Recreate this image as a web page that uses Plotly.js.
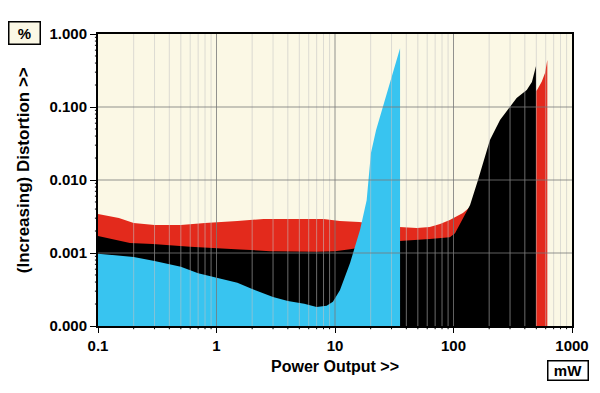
<!DOCTYPE html>
<html>
<head>
<meta charset="utf-8">
<script src="https://cdn.plot.ly/plotly-3.0.1.min.js"></script>
<style>html,body{margin:0;padding:0;background:#fff;}#chart{width:600px;height:393px;}</style>
</head>
<body>
<div id="chart"></div>
<script>
// Power output (mW) and distortion (%) for three series
const redX = [0.1, 0.15, 0.2, 0.3, 0.5, 0.8, 1.5, 2.5, 8, 11, 16, 35, 49, 63, 77, 93, 120, 138, 161, 185, 203, 247, 300, 341, 415, 459, 507, 555, 592, 619];
const redY = [0.00342, 0.00301, 0.00258, 0.00242, 0.00242, 0.00258, 0.00274, 0.00292, 0.00292, 0.00274, 0.00266, 0.00227, 0.0022, 0.00227, 0.0025, 0.00283, 0.00353, 0.00427, 0.0075, 0.017, 0.028, 0.05, 0.08, 0.1, 0.13, 0.15, 0.171, 0.222, 0.292, 0.44];

const blackX = [0.1, 0.186, 0.29, 0.6, 1.58, 2.83, 7.0, 10, 13.4, 20, 35, 63, 93, 103, 138, 161, 185, 203, 247, 300, 341, 415, 459, 497];
const blackY = [0.00171, 0.00137, 0.00133, 0.00122, 0.00112, 0.00106, 0.00104, 0.00106, 0.00113, 0.00125, 0.00146, 0.00155, 0.00164, 0.00187, 0.00455, 0.0100, 0.0209, 0.0353, 0.0664, 0.101, 0.133, 0.171, 0.22, 0.365];

const cyanX = [0.1, 0.2, 0.3, 0.5, 0.7, 1.0, 1.5, 2.0, 3.0, 4.0, 5.5, 7.0, 8.5, 9.6, 11.0, 13.4, 16.3, 18.5, 19.1, 20.1, 22.2, 25.4, 28.6, 35.4];
const cyanY = [0.00098, 0.00088, 0.00078, 0.00065, 0.00053, 0.00046, 0.00039, 0.00032, 0.00025, 0.00022, 0.000202, 0.000182, 0.00019, 0.000215, 0.00031, 0.00073, 0.0021, 0.0053, 0.010, 0.0234, 0.048, 0.10, 0.19, 0.64];

const xTickVals = [0.1, 1, 10, 100, 1000];
const xTickText = ['0.1', '1', '10', '100', '1000'];
const yTickVals = [0.0001, 0.001, 0.01, 0.1, 1];
const yTickText = ['0.000', '0.001', '0.010', '0.100', '1.000'];
const minorMult = [2, 3, 4, 5, 6, 7, 8, 9];

const xMinor = xTickVals.slice(0, -1).flatMap(d => minorMult.map(m => d * m));
const yMinor = yTickVals.slice(0, -1).flatMap(d => minorMult.map(m => d * m));

function area(x, y, color) {
  return {x: x, y: y, type: 'scatter', mode: 'lines', fill: 'tozeroy',
          fillcolor: color, line: {color: color, width: 0}, hoverinfo: 'skip', showlegend: false};
}
const traces = [
  area(redX, redY, '#E32A1C'),
  area(blackX, blackY, '#000000'),
  area(cyanX, cyanY, '#38C4F0')
];

const shapes = [];
function vline(v, color) {
  shapes.push({type: 'line', xref: 'x', yref: 'paper', x0: v, x1: v, y0: 0, y1: 1, line: {color: color, width: 1}, layer: 'above'});
}
function hline(v, color) {
  shapes.push({type: 'line', xref: 'paper', yref: 'y', y0: v, y1: v, x0: 0, x1: 1, line: {color: color, width: 1}, layer: 'above'});
}
xMinor.forEach(v => vline(v, 'rgba(195,195,195,0.55)'));
xTickVals.slice(1, -1).forEach(v => vline(v, 'rgba(120,120,120,0.8)'));
yTickVals.slice(1, -1).forEach(v => hline(v, 'rgba(120,120,120,0.8)'));
// minor tick marks drawn outside the frame
xMinor.forEach(v => shapes.push({type: 'line', xref: 'x', yref: 'paper', x0: v, x1: v, y0: 0, y1: -0.011, line: {color: '#000', width: 1}, layer: 'above'}));
yMinor.forEach(v => shapes.push({type: 'line', xref: 'paper', yref: 'y', y0: v, y1: v, x0: 0, x1: -0.0065, line: {color: '#000', width: 1}, layer: 'above'}));

const fontFam = '"Liberation Sans", Arial, sans-serif';
const layout = {
  width: 600, height: 393,
  margin: {l: 98, r: 28, t: 34, b: 67},
  paper_bgcolor: '#ffffff',
  plot_bgcolor: '#FBF8E5',
  font: {family: fontFam, color: '#000', size: 15, weight: 'bold'},
  showlegend: false,
  xaxis: {
    type: 'log', range: [-1, 3], tickmode: 'array', tickvals: xTickVals, ticktext: xTickText,
    showgrid: false, zeroline: false, showline: true, mirror: true, linecolor: '#000', linewidth: 2,
    ticks: 'outside', ticklen: 5, tickwidth: 1, tickcolor: '#000',
    tickfont: {family: fontFam, size: 15, weight: 'bold', color: '#000'}
  },
  yaxis: {
    type: 'log', range: [-4, 0], tickmode: 'array', tickvals: yTickVals, ticktext: yTickText,
    showgrid: false, zeroline: false, showline: true, mirror: true, linecolor: '#000', linewidth: 2,
    ticks: 'outside', ticklen: 6, tickwidth: 1, tickcolor: '#000',
    tickfont: {family: fontFam, size: 15, weight: 'bold', color: '#000'}
  },
  shapes: shapes,
  annotations: [
    {text: 'Power Output >>', xref: 'paper', yref: 'paper', x: 0.5, y: -0.137, xanchor: 'center', yanchor: 'middle',
     showarrow: false, font: {family: fontFam, size: 16, weight: 'bold', color: '#000'}},
    {text: '(Increasing) Distortion >>', xref: 'paper', yref: 'paper', x: -0.158, y: 0.534, xanchor: 'center', yanchor: 'middle',
     textangle: -90, showarrow: false, font: {family: fontFam, size: 17, weight: 'bold', color: '#000'}},
    {text: '%', xref: 'paper', yref: 'paper', x: -0.156, y: 1.002, xanchor: 'center', yanchor: 'middle',
     showarrow: false, width: 28, height: 19, bgcolor: '#FBF8E5', bordercolor: '#000', borderwidth: 1.5, borderpad: 1,
     font: {family: fontFam, size: 15, weight: 'bold', color: '#000'}},
    {text: 'mW', xref: 'paper', yref: 'paper', x: 0.9926, y: -0.1507, xanchor: 'center', yanchor: 'middle',
     showarrow: false, width: 37, height: 16, bgcolor: '#ffffff', bordercolor: '#000', borderwidth: 1.5, borderpad: 1,
     font: {family: fontFam, size: 15, weight: 'bold', color: '#000'}}
  ]
};

Plotly.newPlot('chart', traces, layout, {staticPlot: true, displayModeBar: false});
</script>
</body>
</html>
